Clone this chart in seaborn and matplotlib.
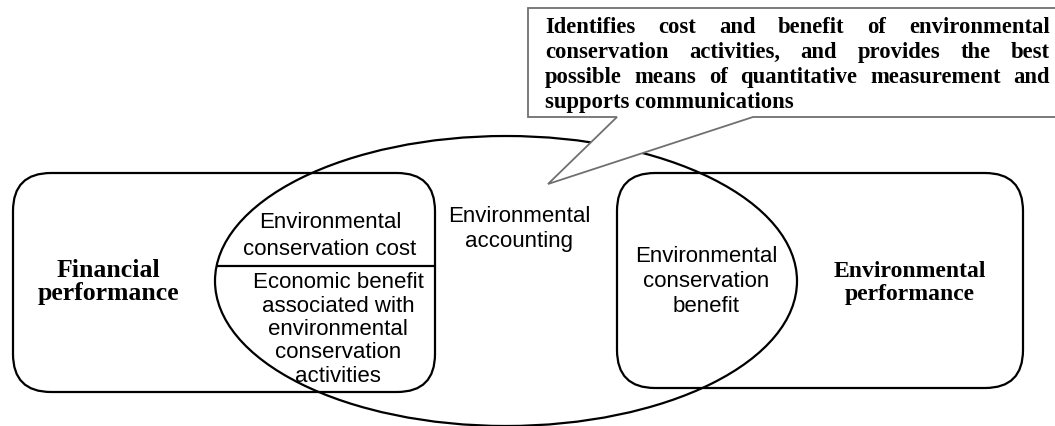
import matplotlib
matplotlib.use("Agg")
import matplotlib.pyplot as plt
from matplotlib.patches import FancyBboxPatch, Ellipse, Polygon
import numpy as np
import seaborn as sns

# ---- content ----
callout_lines = [
    "Identifies cost and benefit of environmental",
    "conservation activities, and provides the best",
    "possible means of quantitative measurement and",
    "supports communications",
]
left_box_label = ["Financial", "performance"]
right_box_label = ["Environmental", "performance"]
cost_label = ["Environmental", "conservation cost"]
econ_label = ["Economic benefit", "associated with", "environmental",
              "conservation", "activities"]
accounting_label = ["Environmental", "accounting"]
benefit_label = ["Environmental", "conservation", "benefit"]

sns.set_theme(style="white")
plt.rcParams["font.family"] = ["Liberation Sans", "DejaVu Sans"]

W, H = 1055, 427
fig = plt.figure(figsize=(W / 100, H / 100), dpi=100)
ax = fig.add_axes([0, 0, 1, 1])
ax.set_xlim(0, W)
ax.set_ylim(H, 0)
ax.axis("off")

LW = 1.6
SANS = "Liberation Sans"
SERIF = "Liberation Serif"

# rounded boxes
left_box = FancyBboxPatch((13, 174), 422, 219, boxstyle="round,pad=0,rounding_size=38",
                          fill=False, ec="black", lw=LW, zorder=2)
right_box = FancyBboxPatch((617, 174), 406, 215, boxstyle="round,pad=0,rounding_size=38",
                           fill=False, ec="black", lw=LW, zorder=2)
ax.add_patch(left_box)
ax.add_patch(right_box)

# ellipse
ecx, ecy, ew, eh = 506, 282, 582, 290
ax.add_patch(Ellipse((ecx, ecy), ew, eh, fill=False, ec="black", lw=LW, zorder=2))

# divider line inside left box
ly = 267
lx0 = ecx - (ew / 2) * np.sqrt(1 - ((ly - ecy) / (eh / 2)) ** 2)
ax.plot([lx0, 435], [ly, ly], color="black", lw=LW, zorder=2)

# callout with tail
callout = Polygon([(528, 9), (1062, 9), (1062, 118), (753, 118), (548, 185),
                   (617, 118), (528, 118)], closed=True, fc="white",
                  ec="#707070", lw=1.3, zorder=5)
ax.add_patch(callout)


def lines_at(x, baselines, lines, size, family, weight="normal"):
    for b, t in zip(baselines, lines):
        ax.text(x, b, t, ha="center", va="baseline", fontsize=size,
                family=family, weight=weight, color="black", zorder=6)


SZ = 16
lines_at(330, [228, 255], cost_label, SZ, SANS)
lines_at(338, [288, 312, 335, 358, 382], econ_label, SZ, SANS)
lines_at(519, [222, 247], accounting_label, SZ, SANS)
lines_at(706, [262, 287, 312], benefit_label, SZ, SANS)
lines_at(108, [277, 300], left_box_label, 18.5, SERIF, "bold")
lines_at(910, [277, 300], right_box_label, 17, SERIF, "bold")

# justified callout text
renderer = fig.canvas.get_renderer()
x_left, x_right = 545, 1050
baselines = [33, 58, 83, 108]
CSZ = 16.3
for i, (line, b) in enumerate(zip(callout_lines, baselines)):
    if i == len(callout_lines) - 1:
        ax.text(x_left, b, line, ha="left", va="baseline", fontsize=CSZ,
                family=SERIF, weight="bold", color="black", zorder=6)
        continue
    words = line.split()
    objs = [ax.text(0, b, w_, ha="left", va="baseline", fontsize=CSZ,
                    family=SERIF, weight="bold", color="black", zorder=6)
            for w_ in words]
    widths = [o.get_window_extent(renderer).width for o in objs]
    gap = (x_right - x_left - sum(widths)) / (len(words) - 1)
    x = x_left
    for o, wd in zip(objs, widths):
        o.set_x(x)
        x += wd + gap

fig.savefig("out.png", dpi=100)
